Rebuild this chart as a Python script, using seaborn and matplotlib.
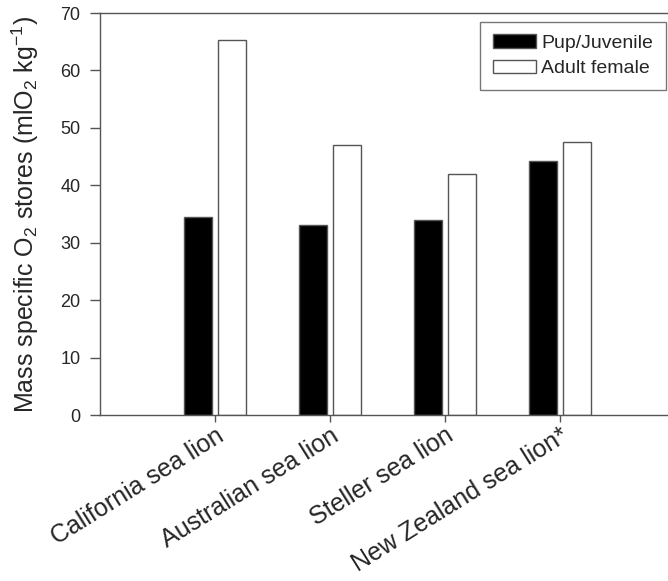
import matplotlib
matplotlib.use("Agg")
import matplotlib.pyplot as plt
import seaborn as sns
import pandas as pd

species = ["California sea lion", "Australian sea lion", "Steller sea lion", "New Zealand sea lion*"]
pup_juvenile = [34.5, 33.0, 34.0, 44.2]
adult_female = [65.3, 47.0, 42.0, 47.5]
groups = ["Pup/Juvenile", "Adult female"]
y_ticks = [0, 10, 20, 30, 40, 50, 60, 70]

sns.set_style("white")
plt.rcParams["font.family"] = ["Liberation Sans", "DejaVu Sans"]
plt.rcParams["mathtext.fontset"] = "custom"
plt.rcParams["mathtext.rm"] = "Liberation Sans"
plt.rcParams["mathtext.it"] = "Liberation Sans"

df = pd.DataFrame({
    "species": species * 2,
    "group": [groups[0]] * len(species) + [groups[1]] * len(species),
    "value": pup_juvenile + adult_female,
})

fig = plt.figure(figsize=(6.68, 5.81), dpi=100)
ax = fig.add_axes([100 / 668, 1 - 415 / 581, 568 / 668, 402 / 581])

sns.barplot(data=df, x="species", y="value", hue="group", hue_order=groups,
            palette={groups[0]: "black", groups[1]: "white"},
            width=0.6, gap=0.19, ax=ax, edgecolor="#555555", linewidth=1.0,
            saturation=1)

ax.set_xlim(-1.0, 3.94)
ax.set_ylim(0, 70)
ax.set_yticks(y_ticks)
ax.set_yticklabels([str(t) for t in y_ticks], fontsize=13)
ax.set_xlabel("")
ax.set_ylabel(r"Mass specific O$_\mathregular{2}$ stores (mlO$_\mathregular{2}$ kg$^\mathregular{-1}$)",
              fontsize=18, labelpad=14)
ax.set_xticks(range(len(species)))
ax.set_xticklabels(species, rotation=32, ha="right", rotation_mode="anchor", fontsize=18)

for side in ["left", "bottom", "top"]:
    ax.spines[side].set_visible(True)
    ax.spines[side].set_color("#555555")
    ax.spines[side].set_linewidth(1.0)
ax.spines["right"].set_visible(False)
ax.tick_params(axis="y", direction="out", length=7, width=1, color="#555555", left=True, pad=7)
ax.tick_params(axis="x", direction="out", length=5, width=1, color="#555555", bottom=True, pad=1)

leg = ax.legend(loc="upper right", bbox_to_anchor=(0.9965, 0.978), borderaxespad=0,
                fontsize=14, frameon=True, fancybox=False, handlelength=2.2,
                handleheight=0.7, borderpad=0.65, labelspacing=0.4, handletextpad=0.3)
leg.get_frame().set_edgecolor("#555555")
leg.get_frame().set_linewidth(1.0)

fig.savefig("out.png", dpi=100)
